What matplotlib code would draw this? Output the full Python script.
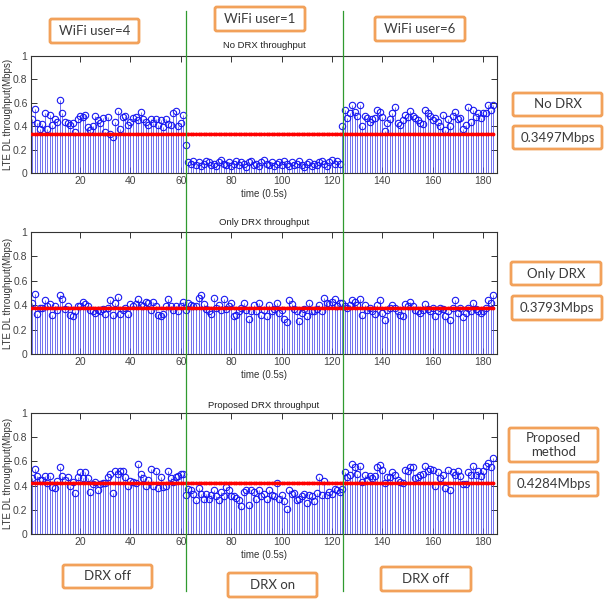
import numpy as np
import matplotlib
matplotlib.use('Agg')
import matplotlib.pyplot as plt
from matplotlib.patches import FancyBboxPatch
from matplotlib.lines import Line2D
import matplotlib.transforms as mtransforms

# ---------------- data ----------------
no_drx = [
    .46, .55, .43, .38, .42, .51, .38, .50, .41, .46,
    .44, .62, .51, .44, .43, .41, .43, .35, .46, .49,
    .48, .50, .39, .37, .40, .49, .45, .43, .47, .35,
    .48, .33, .31, .44, .53, .38, .48, .49, .41, .44,
    .47, .48, .45, .52, .46, .44, .41, .46, .43, .46,
    .41, .45, .39, .46, .42, .41, .51, .53, .40, .43,
    .50, .24, .09, .08, .10, .07, .09, .06, .08, .10,
    .09, .07, .08, .06, .09, .11, .08, .07, .09, .06,
    .08, .10, .07, .09, .08, .05, .09, .10, .07, .08,
    .06, .09, .11, .08, .07, .09, .06, .08, .09, .07,
    .10, .08, .06, .09, .07, .08, .10, .07, .05, .08,
    .09, .06, .08, .07, .09, .10, .08, .06, .09, .11,
    .08, .10, .08, .40, .54, .47, .51, .58, .52, .49,
    .58, .40, .49, .47, .44, .46, .47, .54, .52, .48,
    .36, .43, .46, .51, .56, .43, .41, .45, .50, .48,
    .53, .49, .47, .45, .43, .42, .54, .51, .49, .45,
    .47, .44, .40, .50, .37, .46, .40, .49, .52, .46,
    .47, .38, .41, .56, .44, .54, .48, .51, .47, .51,
    .51, .58, .54, .58,
]

only_drx = [
    .42, .49, .33, .38, .38, .44, .39, .41, .32, .39,
    .36, .48, .45, .37, .39, .32, .31, .35, .39, .39,
    .43, .41, .39, .36, .35, .34, .36, .35, .37, .33,
    .38, .44, .32, .42, .47, .33, .36, .38, .33, .41,
    .39, .41, .45, .40, .39, .43, .42, .36, .43, .39,
    .32, .31, .33, .39, .45, .39, .36, .39, .35, .39,
    .43, .36, .42, .40, .39, .39, .46, .48, .41, .37,
    .35, .33, .46, .38, .40, .36, .45, .37, .39, .42,
    .31, .32, .35, .38, .42, .36, .29, .35, .40, .35,
    .42, .32, .36, .31, .40, .35, .37, .42, .34, .36,
    .29, .26, .44, .41, .37, .35, .27, .34, .37, .31,
    .42, .35, .35, .37, .40, .35, .46, .42, .41, .43,
    .45, .39, .42, .42, .39, .38, .40, .44, .43, .40,
    .45, .32, .40, .36, .38, .35, .33, .40, .44, .34,
    .28, .36, .38, .40, .38, .35, .32, .31, .41, .39,
    .43, .39, .36, .35, .34, .36, .41, .37, .35, .38,
    .31, .35, .38, .37, .31, .35, .28, .38, .44, .34,
    .38, .30, .34, .38, .35, .42, .37, .35, .34, .35,
    .38, .44, .42, .48,
]

proposed = [
    .46, .54, .48, .45, .45, .48, .42, .48, .39, .38,
    .44, .55, .48, .45, .47, .40, .43, .34, .47, .51,
    .46, .51, .46, .35, .41, .43, .36, .41, .42, .42,
    .47, .50, .34, .52, .50, .52, .52, .47, .40, .44,
    .43, .42, .58, .50, .46, .40, .45, .54, .40, .52,
    .38, .47, .39, .40, .52, .46, .43, .47, .48, .50,
    .50, .32, .37, .36, .33, .28, .38, .33, .29, .33,
    .29, .32, .36, .31, .28, .35, .31, .39, .36, .31,
    .31, .30, .28, .23, .35, .36, .24, .36, .35, .29,
    .36, .31, .33, .29, .36, .32, .31, .42, .29, .32,
    .27, .21, .36, .33, .34, .28, .29, .31, .33, .26,
    .32, .31, .27, .34, .47, .32, .44, .32, .35, .33,
    .37, .36, .35, .37, .51, .47, .49, .58, .55, .50,
    .56, .43, .49, .45, .48, .46, .48, .55, .57, .53,
    .42, .47, .47, .51, .49, .45, .43, .42, .53, .52,
    .55, .55, .46, .47, .49, .50, .56, .52, .54, .53,
    .40, .51, .46, .49, .38, .53, .36, .51, .49, .52,
    .48, .41, .41, .51, .49, .56, .49, .52, .48, .52,
    .56, .59, .55, .63,
]

titles = ['No DRX throughput', 'Only DRX throughput', 'Proposed DRX throughput']
ylabel_text = 'LTE DL throughput(Mbps)'
xlabel_text = 'time (0.5s)'
yticks = [0, 0.2, 0.4, 0.6, 0.8, 1]
ytick_labels = ['0', '0.2', '0.4', '0.6', '0.8', '1']
xticks = [20, 40, 60, 80, 100, 120, 140, 160, 180]
wifi_labels = ['WiFi user=4', 'WiFi user=1', 'WiFi user=6']
drx_labels = ['DRX off', 'DRX on', 'DRX off']
method_labels = ['No DRX', 'Only DRX', 'Proposed\nmethod']
mean_labels = ['0.3497Mbps', '0.3793Mbps', '0.4284Mbps']
phase_boundaries = [62, 124.4]

# ---------------- layout ----------------
W, H = 607, 600
fig = plt.figure(figsize=(W / 100, H / 100), dpi=100)


def fx(px):
    return px / W


def fy(py):
    return 1 - py / H


axes_px = [(31, 56, 497, 173), (31, 232, 497, 354), (31, 413, 497, 534)]
title_py = [45, 223, 405]
xlabel_py = [194, 375, 555]

ax_font = 'Liberation Sans'
box_font = 'Lato'
box_edge = '#F2A15A'
box_text = '#3a3a3a'

series = [no_drx, only_drx, proposed]
axes = []
for k, (vals, (x0, y0, x1, y1)) in enumerate(zip(series, axes_px)):
    ax = fig.add_axes([fx(x0), fy(y1), fx(x1 - x0), (y1 - y0) / H])
    axes.append(ax)
    x = np.arange(1, len(vals) + 1)
    y = np.array(vals)
    markerline, stemlines, baseline = ax.stem(x, y, linefmt='-', markerfmt='o', basefmt=' ')
    stemlines.set_color((0.3, 0.3, 0.92))
    stemlines.set_linewidth(0.7)
    stemlines.set_alpha(0.8)
    markerline.set_markerfacecolor('none')
    markerline.set_markeredgecolor((0.1, 0.1, 0.95))
    markerline.set_markersize(4.6)
    markerline.set_markeredgewidth(0.8)
    ax.plot(x, np.full(len(x), y.mean()), color='red', lw=1.6, marker='.', ms=3.5, zorder=4)
    ax.set_xlim(0.5, 185.5)
    ax.set_ylim(0, 1)
    ax.set_xticks(xticks)
    ax.set_yticks(yticks)
    ax.set_yticklabels(ytick_labels)
    ax.tick_params(direction='in', top=True, right=True, length=4, width=0.7,
                   labelsize=7.5, colors='#333333', pad=2.5)
    for lbl in ax.get_xticklabels() + ax.get_yticklabels():
        lbl.set_fontfamily(ax_font)
        lbl.set_color('#444444')
    for s in ax.spines.values():
        s.set_color('#333333')
        s.set_linewidth(0.8)
    fig.text(fx((x0 + x1) / 2), fy(title_py[k]), titles[k], ha='center', va='center',
             fontsize=6.8, family=ax_font, color='#222222')
    fig.text(fx((x0 + x1) / 2), fy(xlabel_py[k]), xlabel_text, ha='center', va='center',
             fontsize=7, family=ax_font, color='#333333')
    fig.text(fx(8), fy((y0 + y1) / 2), ylabel_text, ha='center', va='center', rotation=90,
             fontsize=7, family=ax_font, color='#333333')

# green phase boundary lines spanning the figure
trans = mtransforms.blended_transform_factory(axes[0].transData, fig.transFigure)
for b in phase_boundaries:
    fig.add_artist(Line2D([b, b], [fy(11), fy(591)], transform=trans,
                          color='#2f9a2f', lw=0.9, zorder=10))


def box(x0, y0, x1, y1, text, fs=9.5):
    p = FancyBboxPatch((fx(x0), fy(y1)), fx(x1 - x0), (y1 - y0) / H,
                       boxstyle='round,pad=0,rounding_size=0.003',
                       transform=fig.transFigure, fc='white', ec=box_edge, lw=2.0, zorder=20)
    fig.add_artist(p)
    fig.text(fx((x0 + x1) / 2), fy((y0 + y1) / 2), text, ha='center', va='center',
             fontsize=fs, family=box_font, color=box_text, zorder=21, linespacing=1.1)


wifi_px = [(50, 19, 139, 43), (215, 7, 305, 31), (375, 17, 465, 41)]
for (x0, y0, x1, y1), t in zip(wifi_px, wifi_labels):
    box(x0, y0, x1, y1, t)

drx_px = [(63, 565, 152, 588), (228, 573, 317, 597), (381, 567, 471, 591)]
for (x0, y0, x1, y1), t in zip(drx_px, drx_labels):
    box(x0, y0, x1, y1, t)

method_px = [(513, 93, 602, 116), (511, 262, 601, 285), (509, 428, 598, 462)]
for (x0, y0, x1, y1), t in zip(method_px, method_labels):
    box(x0, y0, x1, y1, t)

mean_px = [(513, 126, 602, 149), (512, 296, 602, 320), (509, 472, 598, 496)]
for (x0, y0, x1, y1), t in zip(mean_px, mean_labels):
    box(x0, y0, x1, y1, t)

fig.savefig('out.png', dpi=100)
